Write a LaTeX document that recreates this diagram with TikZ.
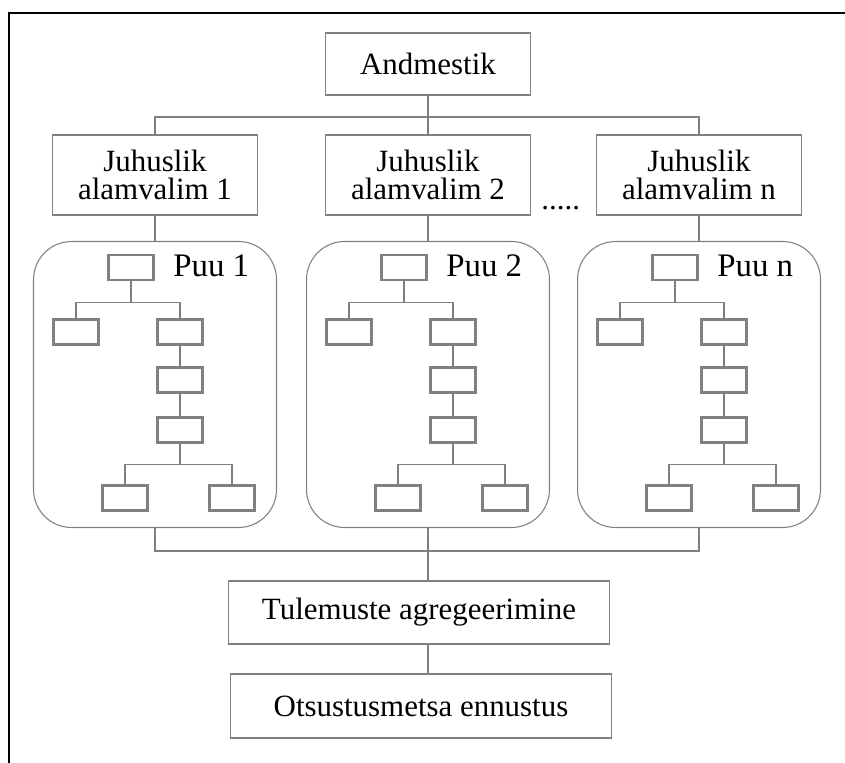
\documentclass[tikz,border=0pt]{standalone}
\usepackage{fontspec}
\setmainfont{Liberation Serif}
\usetikzlibrary{positioning}

\begin{document}
\begin{tikzpicture}[x=0.02cm, y=-0.02cm,
    box/.style={draw=gray, line width=0.6pt, align=center, inner sep=0pt,
      minimum width=4.1cm, font=\fontsize{17.6}{15.9}\selectfont},
    leaf/.style={draw=gray, line width=1.2pt, inner sep=0pt,
      minimum width=0.9cm, minimum height=0.5cm},
    tree/.style={draw=gray, line width=0.6pt, inner sep=0pt, rounded corners=0.76cm,
      minimum width=4.86cm, minimum height=5.72cm},
    link/.style={draw=gray, line width=0.6pt}]
  \useasboundingbox (0,0) rectangle (845,763);
  % frame
  \draw[line width=1.4pt] (845,13) -- (9,13) -- (9,763);

  % data and samples
  \node[box, minimum height=1.24cm] (andm) at (428,64) {Andmestik};
  \node[box, minimum height=1.6cm] (jl1) at (155,175) {Juhuslik\\alamvalim 1};
  \node[box, minimum height=1.6cm] (jl2) at (428,175) {Juhuslik\\alamvalim 2};
  \node[box, minimum height=1.6cm] (jln) at (699,175) {Juhuslik\\alamvalim n};
  \node[anchor=base west, inner sep=0pt, font=\fontsize{17.6}{15.9}\selectfont] (dots) at (541,210) {.....};
  \coordinate (topbus) at (428,117);
  \coordinate (botbus) at (428,551);

  % results
  \node[box, minimum width=7.62cm, minimum height=1.26cm] (agg) at (419,612.5) {Tulemuste agregeerimine};
  \node[box, minimum width=7.62cm, minimum height=1.28cm] (pred) at (421,706) {Otsustusmetsa ennustus};

  % one tree per sample
  \foreach \cx/\k in {155/1, 428/2, 699/n} {
    \node[tree] (puu\k) at (\cx,384.5) {};
    \node[anchor=base west, inner sep=0pt, font=\fontsize{18.7}{20}\selectfont] (lbl\k) at (\cx+18,277) {Puu \k};
    \node[leaf] (r\k) at (\cx-24,267.5) {};
    \node[leaf] (l\k) at (\cx-79,332) {};
    \node[leaf] (c\k) at (\cx+25,332) {};
    \node[leaf] (m\k) at (\cx+25,380) {};
    \node[leaf] (n\k) at (\cx+25,430) {};
    \node[leaf] (bl\k) at (\cx-30,498) {};
    \node[leaf] (br\k) at (\cx+77,498) {};
    \path (r\k.south) ++(0,21) coordinate (s\k);
    \path (n\k.south) ++(0,21) coordinate (t\k);
    \draw[link] (r\k.south) -- (s\k) (l\k.north) |- (s\k) (c\k.north) |- (s\k);
    \draw[link] (c\k) -- (m\k) (m\k) -- (n\k);
    \draw[link] (n\k.south) -- (t\k) (bl\k.north) |- (t\k) (br\k.north) |- (t\k);
    \draw[link] (jl\k.north) |- (topbus);
    \draw[link] (jl\k.south) -- (puu\k.north);
    \draw[link] (puu\k.south) |- (botbus);
  }
  \draw[link] (andm.south) -- (topbus);
  \draw[link] (botbus) -- (agg.north -| botbus);
  \draw[link] (agg.south -| botbus) -- (pred.north -| botbus);
\end{tikzpicture}
\end{document}
